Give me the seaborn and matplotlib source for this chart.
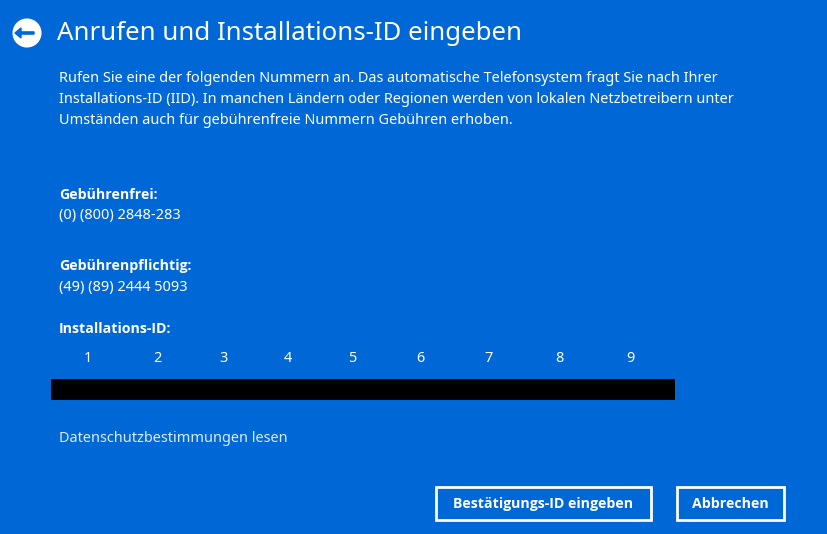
import matplotlib
matplotlib.use("Agg")
import matplotlib.pyplot as plt
import seaborn as sns
from matplotlib.patches import Circle, Rectangle, FancyArrow

sns.set_theme(style="white")
plt.rcParams['font.family'] = ['Noto Sans', 'DejaVu Sans']

BG = "#0067D6"
title = "Anrufen und Installations-ID eingeben"
intro = ["Rufen Sie eine der folgenden Nummern an. Das automatische Telefonsystem fragt Sie nach Ihrer",
         "Installations-ID (IID). In manchen Ländern oder Regionen werden von lokalen Netzbetreibern unter",
         "Umständen auch für gebührenfreie Nummern Gebühren erhoben."]
labels = ["Gebührenfrei:", "Gebührenpflichtig:", "Installations-ID:"]
numbers = ["(0) (800) 2848-283", "(49) (89) 2444 5093"]
groups = ["1", "2", "3", "4", "5", "6", "7", "8", "9"]
group_x = [88, 157, 224, 288, 352, 420, 489, 559, 630]
buttons = ["Bestätigungs-ID eingeben", "Abbrechen"]
link = "Datenschutzbestimmungen lesen"

BOLD = dict(family=['Open Sans', 'DejaVu Sans'], fontweight="bold")
FS = 10.45
FB = 10.2

fig = plt.figure(figsize=(8.27, 5.34), dpi=100, facecolor=BG)
ax = fig.add_axes([0, 0, 1, 1])
ax.set_facecolor(BG)
ax.set_xlim(0, 827); ax.set_ylim(534, 0); ax.axis("off")

ax.add_patch(Circle((27, 33), 13.5, fc="white", ec="white", lw=1.5))
ax.add_patch(FancyArrow(34, 33, -13, 0, width=2.2, head_width=10, head_length=6, fc=BG, ec=BG))

ax.text(57, 33, title, color="white", fontsize=18.6, va="center")
for i, line in enumerate(intro):
    ax.text(59, 78 + i * 21.5, line, color="white", fontsize=FS, va="center")
ax.text(59, 195, labels[0], color="white", fontsize=FB, va="center", **BOLD)
ax.text(59, 216, numbers[0], color="white", fontsize=FS, va="center")
ax.text(59, 266, labels[1], color="white", fontsize=FB, va="center", **BOLD)
ax.text(59, 287, numbers[1], color="white", fontsize=FS, va="center")
ax.text(59, 329, labels[2], color="white", fontsize=FB, va="center", **BOLD)
for g, x in zip(groups, group_x):
    ax.text(x, 358, g, color="white", fontsize=FS, ha="center", va="center")
ax.barh([389.5], [624], left=51, height=21, color="black", edgecolor="none", linewidth=0)
ax.text(59, 438, link, color="#DDEBFA", fontsize=FS, va="center")

for (x0, x1), t in zip([(436, 651), (677, 784)], buttons):
    ax.add_patch(Rectangle((x0, 487), x1 - x0, 33, fill=False, ec="white", lw=2))
    ax.text((x0 + x1) / 2, 504, t, color="white", fontsize=FB, ha="center", va="center", **BOLD)

fig.savefig("out.png", dpi=100, facecolor=BG)
